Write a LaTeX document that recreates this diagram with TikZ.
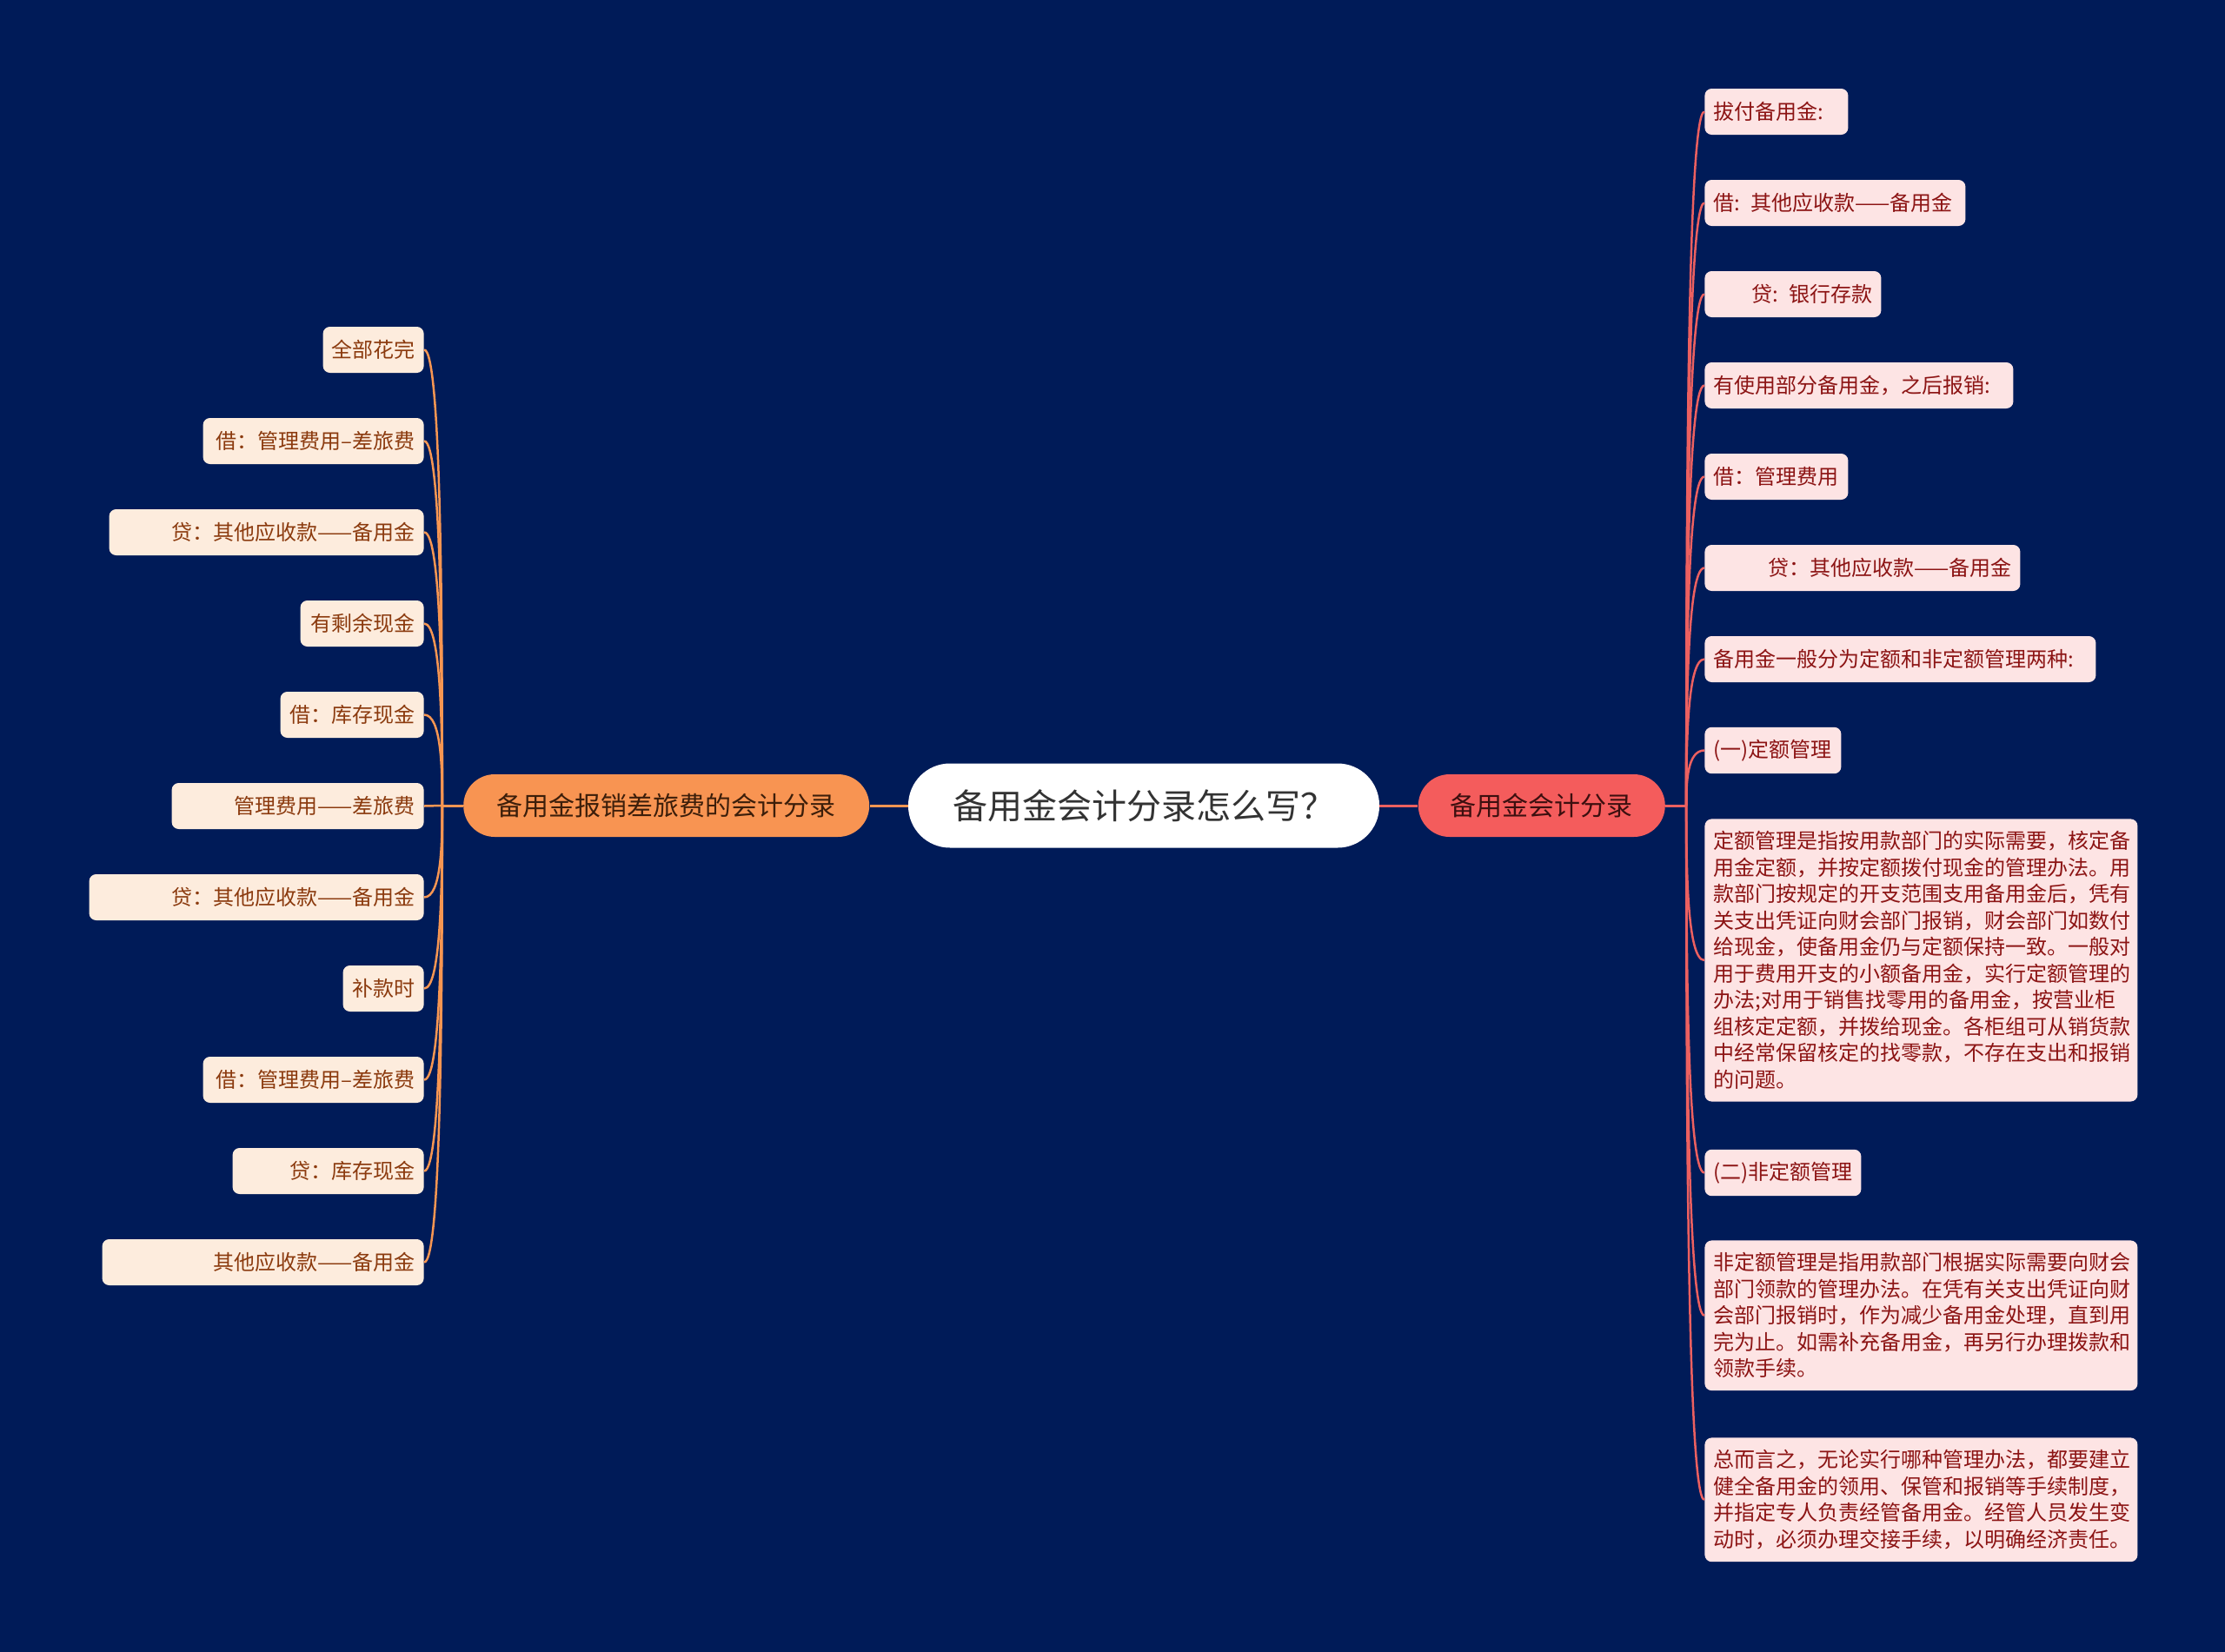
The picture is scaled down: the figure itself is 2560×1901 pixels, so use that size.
\documentclass[tikz,border=0pt]{standalone}
\usepackage{fontspec}
\newfontfamily\cjkfont{Noto Sans CJK SC}
\usetikzlibrary{positioning,calc}
\definecolor{mapbg}{RGB}{0,27,88}
\definecolor{rootink}{RGB}{51,51,51}
\definecolor{lmainfill}{RGB}{248,148,82}
\definecolor{lmainink}{RGB}{60,30,10}
\definecolor{rmainfill}{RGB}{244,92,92}
\definecolor{rmainink}{RGB}{60,15,15}
\definecolor{lleaffill}{RGB}{253,236,221}
\definecolor{lleafink}{RGB}{139,58,14}
\definecolor{rleaffill}{RGB}{253,228,228}
\definecolor{rleafink}{RGB}{140,20,20}
\definecolor{lline}{RGB}{247,150,82}
\definecolor{rline}{RGB}{236,96,96}

\begin{document}
\begin{tikzpicture}[
  x=0.5pt,y=-0.5pt,
  font=\cjkfont,
  rootbox/.style={fill=white,text=rootink,rounded corners=24pt,
                  minimum width=271pt,minimum height=48.5pt,
                  font=\cjkfont\fontsize{20pt}{24pt}\selectfont},
  mainbox/.style={rounded corners=18pt,minimum height=36pt,
                  font=\cjkfont\fontsize{15pt}{18pt}\selectfont},
  lmain/.style={mainbox,fill=lmainfill,text=lmainink,minimum width=233.5pt},
  rmain/.style={mainbox,fill=rmainfill,text=rmainink,minimum width=142pt},
  leaf/.style={rounded corners=4pt,inner xsep=5pt,inner ysep=7.1pt,
               minimum height=26.5pt,
               font=\cjkfont\fontsize{12pt}{15.25pt}\selectfont},
  lleaf/.style={leaf,fill=lleaffill,text=lleafink,anchor=east,
                align=right,text width=#1},
  rleaf/.style={leaf,fill=rleaffill,text=rleafink,anchor=west,
                align=left,text width=#1},
  lcon/.style={lline,line width=1.25pt},
  rcon/.style={rline,line width=1.25pt},
  goup/.style={out=90,in=#1,in max distance=10pt},
  godown/.style={out=270,in=#1,in max distance=10pt}
]
\fill[mapbg] (0,0) rectangle (2560,1901);

% centre and the two branches
\node[rootbox] (root) at (1316,927) {备用金会计分录怎么写？};
\node[lmain,left=22pt of root] (lmain) {备用金报销差旅费的会计分录};
\node[rmain,right=22pt of root] (rmain) {备用金会计分录};
\coordinate (lhub) at ($(lmain.west)+(-12pt,0)$);
\coordinate (rhub) at ($(rmain.east)+(12pt,0)$);

% left leaves
\node[lleaf=48pt] (la) at (488,402.5) {全部花完};
\node[lleaf=117pt] (lb) at (488,507.5) {借：管理费用–差旅费};
\node[lleaf=171pt] (lc) at (488,612.5) {贷：其他应收款——备用金};
\node[lleaf=61pt] (ld) at (488,717.5) {有剩余现金};
\node[lleaf=72.5pt] (le) at (488,822.5) {借：库存现金};
\node[lleaf=135pt] (lf) at (488,927.5) {管理费用——差旅费};
\node[lleaf=182.5pt] (lg) at (488,1032.5) {贷：其他应收款——备用金};
\node[lleaf=36.5pt] (lh) at (488,1137.5) {补款时};
\node[lleaf=117pt] (li) at (488,1242.5) {借：管理费用–差旅费};
\node[lleaf=100pt] (lj) at (488,1347.5) {贷：库存现金};
\node[lleaf=175pt] (lk) at (488,1452.5) {其他应收款——备用金};

% right leaves
\node[rleaf=72.5pt] (ra) at (1961,128.5) {拔付备用金:};
\node[rleaf=140pt] (rb) at (1961,233.5) {借: 其他应收款——备用金};
\node[rleaf=91.5pt,align=right] (rc) at (1961,338.5) {贷: 银行存款};
\node[rleaf=167.5pt] (rd) at (1961,443.5) {有使用部分备用金，之后报销:};
\node[rleaf=72.5pt] (re) at (1961,548.5) {借：管理费用};
\node[rleaf=171.5pt,align=right] (rf) at (1961,653.5) {贷：其他应收款——备用金};
\node[rleaf=215pt] (rg) at (1961,758.5) {备用金一般分为定额和非定额管理两种:};
\node[rleaf=68.5pt] (rh) at (1961,863.5) {(一)定额管理};
\node[rleaf=239pt,anchor=north west] (ri) at (1961,942) {定额管理是指按用款部门的实际需要，核定备\\
用金定额，并按定额拨付现金的管理办法。用\\
款部门按规定的开支范围支用备用金后，凭有\\
关支出凭证向财会部门报销，财会部门如数付\\
给现金，使备用金仍与定额保持一致。一般对\\
用于费用开支的小额备用金，实行定额管理的\\
办法;对用于销售找零用的备用金，按营业柜\\
组核定定额，并拨给现金。各柜组可从销货款\\
中经常保留核定的找零款，不存在支出和报销\\
的问题。};
\node[rleaf=80pt] (rj) at (1961,1349.5) {(二)非定额管理};
\node[rleaf=239pt,anchor=north west] (rk) at (1961,1427) {非定额管理是指用款部门根据实际需要向财会\\
部门领款的管理办法。在凭有关支出凭证向财\\
会部门报销时，作为减少备用金处理，直到用\\
完为止。如需补充备用金，再另行办理拨款和\\
领款手续。};
\node[rleaf=239pt,anchor=north west] (rl) at (1961,1654) {总而言之，无论实行哪种管理办法，都要建立\\
健全备用金的领用、保管和报销等手续制度，\\
并指定专人负责经管备用金。经管人员发生变\\
动时，必须办理交接手续，以明确经济责任。};

% connectors
\draw[lcon,line width=1.5pt] (root) -- (lmain); \draw[lcon,line width=1.5pt] (lmain.west) -- (lhub);
\draw[rcon,line width=1.5pt] (root) -- (rmain); \draw[rcon,line width=1.5pt] (rmain.east) -- (rhub);
\draw[lcon] (lhub) to[goup=0] (la.east); \draw[lcon] (lhub) to[goup=0] (lb.east);
\draw[lcon] (lhub) to[goup=0] (lc.east); \draw[lcon] (lhub) to[goup=0] (ld.east);
\draw[lcon] (lhub) to[goup=0] (le.east); \draw[lcon] (lhub) -- (lf.east);
\draw[lcon] (lhub) to[godown=0] (lg.east); \draw[lcon] (lhub) to[godown=0] (lh.east);
\draw[lcon] (lhub) to[godown=0] (li.east); \draw[lcon] (lhub) to[godown=0] (lj.east);
\draw[lcon] (lhub) to[godown=0] (lk.east);
\draw[rcon] (rhub) to[goup=180] (ra.west); \draw[rcon] (rhub) to[goup=180] (rb.west);
\draw[rcon] (rhub) to[goup=180] (rc.west); \draw[rcon] (rhub) to[goup=180] (rd.west);
\draw[rcon] (rhub) to[goup=180] (re.west); \draw[rcon] (rhub) to[goup=180] (rf.west);
\draw[rcon] (rhub) to[goup=180] (rg.west); \draw[rcon] (rhub) to[goup=180] (rh.west);
\draw[rcon] (rhub) to[godown=180] (ri.west); \draw[rcon] (rhub) to[godown=180] (rj.west);
\draw[rcon] (rhub) to[godown=180] (rk.west); \draw[rcon] (rhub) to[godown=180] (rl.west);
\end{tikzpicture}
\end{document}
